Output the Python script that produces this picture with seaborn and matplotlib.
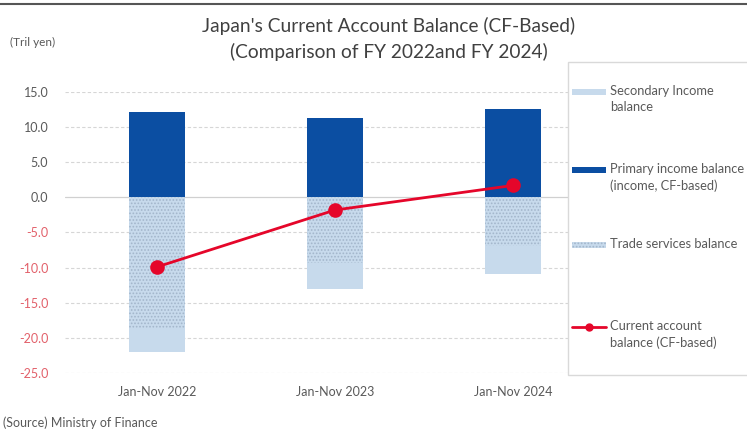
import matplotlib
matplotlib.use("Agg")
import matplotlib.pyplot as plt
from matplotlib.patches import Rectangle
from matplotlib.lines import Line2D
import seaborn as sns

# Japan's current account components, trillion yen
periods = ["Jan-Nov 2022", "Jan-Nov 2023", "Jan-Nov 2024"]
primary_income = [12.1, 11.3, 12.6]
trade_services = [-18.8, -9.3, -6.9]
secondary_income = [-3.2, -3.8, -4.0]
current_account = [-9.9, -1.8, 1.7]
yticks = [15, 10, 5, 0, -5, -10, -15, -20, -25]

legend_labels = [
    "Secondary Income\nbalance",
    "Primary income balance\n(income, CF-based)",
    "Trade services balance",
    "Current account\nbalance (CF-based)",
]

DARK = "#0B4EA2"
LIGHT = "#C7DAEC"
HATCH = "#A3B6CB"
RED = "#E5062A"
GREY = "#595959"

sns.set_theme(style="white")
plt.rcParams["font.family"] = ["Lato", "DejaVu Sans"]
plt.rcParams["hatch.linewidth"] = 0.8

W, H = 747, 433
fig = plt.figure(figsize=(W / 100, H / 100), dpi=100)
ax = fig.add_axes([65 / W, 1 - 373 / H, (568 - 65) / W, (373 - 92) / H])

# negative stack: total (trade + secondary) underneath, trade layer on top
neg_total = [t + s for t, s in zip(trade_services, secondary_income)]
bw = 0.315
sns.barplot(x=periods, y=neg_total, color=LIGHT, saturation=1, width=bw,
            linewidth=0, ax=ax, zorder=2)
sns.barplot(x=periods, y=trade_services, color=LIGHT, saturation=1, width=bw,
            edgecolor=HATCH, linewidth=0, hatch=".....", ax=ax, zorder=2)
sns.barplot(x=periods, y=primary_income, color=DARK, saturation=1, width=bw,
            linewidth=0, ax=ax, zorder=2)
sns.pointplot(x=periods, y=current_account, color=RED, markers="o",
              markersize=9, linewidth=2, ax=ax, zorder=4)

ax.set_xlim(-0.517, 2.309)
ax.set_ylim(-25, 15)
ax.set_yticks(yticks)
ax.set_yticklabels([f"{v:.1f}" for v in yticks])
for lab, v in zip(ax.get_yticklabels(), yticks):
    lab.set_color("#E2606A" if v < 0 else GREY)
for v in yticks:
    if v == 0:
        ax.axhline(0, color="#D0D0D0", lw=0.9, zorder=1)
    else:
        ax.axhline(v, color="#D6D6D6", lw=0.8, ls=(0, (3, 2)), zorder=1)
ax.tick_params(axis="y", length=0, pad=12, labelsize=9)
ax.tick_params(axis="x", length=0, pad=9, labelsize=9, colors=GREY)
ax.set_xlabel("")
ax.set_ylabel("")
for s in ax.spines.values():
    s.set_visible(False)

# titles and notes
fig.text(389 / W, 1 - 26 / H, "Japan's Current Account Balance (CF-Based)",
         ha="center", va="center", fontsize=13.8, color="#404040")
fig.text(389 / W, 1 - 52 / H, "(Comparison of FY 2022and FY 2024)",
         ha="center", va="center", fontsize=13.8, color="#404040")
fig.text(10 / W, 1 - 42 / H, "(Tril yen)", ha="left", va="center",
         fontsize=8.5, color=GREY)
fig.text(3 / W, 1 - 423 / H, "(Source) Ministry of Finance", ha="left",
         va="center", fontsize=9, color=GREY)
fig.add_artist(Line2D([0, 1], [1 - 4 / H, 1 - 4 / H], transform=fig.transFigure,
                      color="#555555", lw=1.5))

# legend panel
lax = fig.add_axes([0, 0, 1, 1], facecolor="none")
lax.set_xlim(0, W)
lax.set_ylim(H, 0)
lax.axis("off")
lax.add_patch(Rectangle((568, 62), 200, 313, facecolor="white",
                        edgecolor="#D9D9D9", lw=1))
sw_x, sw_w, sw_h = 572, 34, 6
ys = [92, 170, 245, 327]
lax.add_patch(Rectangle((sw_x, ys[0] - sw_h / 2), sw_w, sw_h, facecolor=LIGHT, lw=0))
lax.add_patch(Rectangle((sw_x, ys[1] - sw_h / 2), sw_w, sw_h, facecolor=DARK, lw=0))
lax.add_patch(Rectangle((sw_x, ys[2] - sw_h / 2), sw_w, sw_h, facecolor=LIGHT,
                        edgecolor=HATCH, lw=0, hatch="....."))
lax.plot([sw_x, sw_x + sw_w], [ys[3], ys[3]], color=RED, lw=2)
lax.plot([sw_x + sw_w / 2], [ys[3]], "o", color=RED, ms=5)
for y, lab in zip(ys, legend_labels):
    lax.text(sw_x + sw_w + 4, y - 7, lab, ha="left", va="top", fontsize=9.3,
             color=GREY, linespacing=1.4)

fig.savefig("out.png", dpi=100, facecolor="white")
